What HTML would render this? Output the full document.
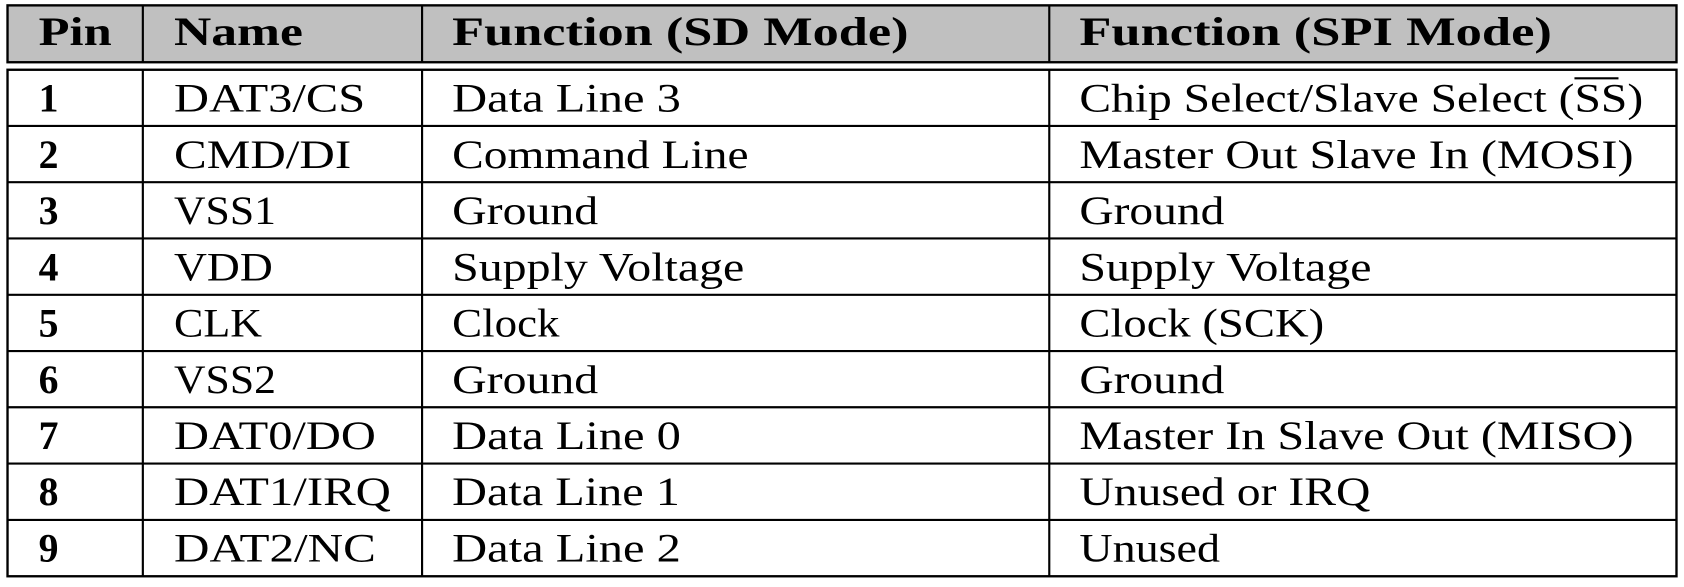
<!DOCTYPE html>
<html><head><meta charset="utf-8"><style>html,body{margin:0;padding:0;background:#fff;}svg{display:block}</style></head>
<body>
<svg width="1684" height="587" viewBox="0 0 1568 547" preserveAspectRatio="none" xmlns="http://www.w3.org/2000/svg" font-family="Liberation Serif, serif" font-size="37" fill="#000">
<rect x="7" y="5" width="1554" height="53" fill="#c0c0c0" stroke="#000" stroke-width="2.2"/>
<line x1="133" y1="5" x2="133" y2="58" stroke="#000" stroke-width="2"/>
<line x1="393" y1="5" x2="393" y2="58" stroke="#000" stroke-width="2"/>
<line x1="977" y1="5" x2="977" y2="58" stroke="#000" stroke-width="2"/>
<rect x="7" y="65" width="1554" height="472" fill="#fff" stroke="#000" stroke-width="2.2"/>
<g stroke="#000" stroke-width="2">
<line x1="133" y1="65" x2="133" y2="537"/><line x1="393" y1="65" x2="393" y2="537"/><line x1="977" y1="65" x2="977" y2="537"/>
<line x1="7" y1="117.4" x2="1561" y2="117.4"/><line x1="7" y1="169.8" x2="1561" y2="169.8"/><line x1="7" y1="222.2" x2="1561" y2="222.2"/><line x1="7" y1="274.7" x2="1561" y2="274.7"/><line x1="7" y1="327.1" x2="1561" y2="327.1"/><line x1="7" y1="379.5" x2="1561" y2="379.5"/><line x1="7" y1="432" x2="1561" y2="432"/><line x1="7" y1="484.5" x2="1561" y2="484.5"/>
</g>
<g font-weight="bold">
<text x="36" y="42" textLength="68" lengthAdjust="spacingAndGlyphs">Pin</text>
<text x="162" y="42" textLength="120" lengthAdjust="spacingAndGlyphs">Name</text>
<text x="421" y="42" textLength="425" lengthAdjust="spacingAndGlyphs">Function (SD Mode)</text>
<text x="1005" y="42" textLength="440" lengthAdjust="spacingAndGlyphs">Function (SPI Mode)</text>
<text x="36" y="104">1</text><text x="36" y="156.4">2</text><text x="36" y="208.8">3</text><text x="36" y="261.2">4</text><text x="36" y="313.6">5</text><text x="36" y="366">6</text><text x="36" y="418.4">7</text><text x="36" y="470.8">8</text><text x="36" y="523.2">9</text>
</g>
<g lengthAdjust="spacingAndGlyphs">
<text x="162" y="104" textLength="178" lengthAdjust="spacingAndGlyphs">DAT3/CS</text>
<text x="162" y="156.4" textLength="165" lengthAdjust="spacingAndGlyphs">CMD/DI</text>
<text x="162" y="208.8" textLength="95" lengthAdjust="spacingAndGlyphs">VSS1</text>
<text x="162" y="261.2" textLength="92" lengthAdjust="spacingAndGlyphs">VDD</text>
<text x="162" y="313.6" textLength="82" lengthAdjust="spacingAndGlyphs">CLK</text>
<text x="162" y="366" textLength="95" lengthAdjust="spacingAndGlyphs">VSS2</text>
<text x="162" y="418.4" textLength="188" lengthAdjust="spacingAndGlyphs">DAT0/DO</text>
<text x="162" y="470.8" textLength="202" lengthAdjust="spacingAndGlyphs">DAT1/IRQ</text>
<text x="162" y="523.2" textLength="188" lengthAdjust="spacingAndGlyphs">DAT2/NC</text>

<text x="421" y="104" textLength="213" lengthAdjust="spacingAndGlyphs">Data Line 3</text>
<text x="421" y="156.4" textLength="276" lengthAdjust="spacingAndGlyphs">Command Line</text>
<text x="421" y="208.8" textLength="136" lengthAdjust="spacingAndGlyphs">Ground</text>
<text x="421" y="261.2" textLength="272" lengthAdjust="spacingAndGlyphs">Supply Voltage</text>
<text x="421" y="313.6" textLength="100" lengthAdjust="spacingAndGlyphs">Clock</text>
<text x="421" y="366" textLength="136" lengthAdjust="spacingAndGlyphs">Ground</text>
<text x="421" y="418.4" textLength="213" lengthAdjust="spacingAndGlyphs">Data Line 0</text>
<text x="421" y="470.8" textLength="212" lengthAdjust="spacingAndGlyphs">Data Line 1</text>
<text x="421" y="523.2" textLength="213" lengthAdjust="spacingAndGlyphs">Data Line 2</text>

<text x="1005" y="104" textLength="525" lengthAdjust="spacingAndGlyphs">Chip Select/Slave Select (SS)</text>
<line x1="1466" y1="73" x2="1507" y2="73" stroke="#000" stroke-width="2"/>
<text x="1005" y="156.4" textLength="516" lengthAdjust="spacingAndGlyphs">Master Out Slave In (MOSI)</text>
<text x="1005" y="208.8" textLength="135" lengthAdjust="spacingAndGlyphs">Ground</text>
<text x="1005" y="261.2" textLength="272" lengthAdjust="spacingAndGlyphs">Supply Voltage</text>
<text x="1005" y="313.6" textLength="228" lengthAdjust="spacingAndGlyphs">Clock (SCK)</text>
<text x="1005" y="366" textLength="135" lengthAdjust="spacingAndGlyphs">Ground</text>
<text x="1005" y="418.4" textLength="516" lengthAdjust="spacingAndGlyphs">Master In Slave Out (MISO)</text>
<text x="1005" y="470.8" textLength="271" lengthAdjust="spacingAndGlyphs">Unused or IRQ</text>
<text x="1005" y="523.2" textLength="131" lengthAdjust="spacingAndGlyphs">Unused</text>
</g>
</svg>
</body></html>
